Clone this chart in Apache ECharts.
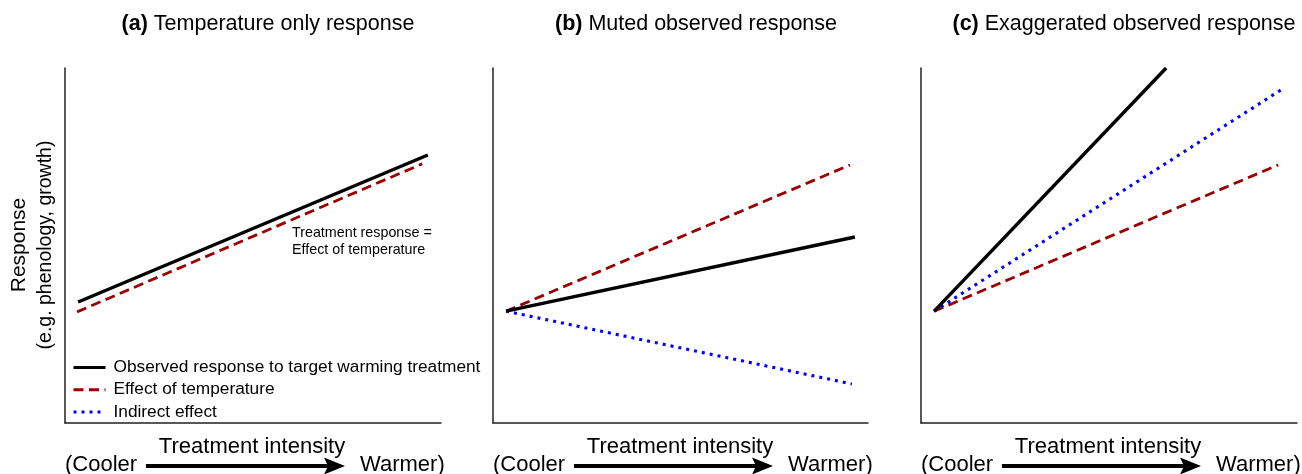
<!DOCTYPE html>
<html>
<head>
<meta charset="utf-8">
<script src="https://cdn.jsdelivr.net/npm/echarts@6/dist/echarts.min.js"></script>
<style>
html,body{margin:0;padding:0;background:#fff;}
#chart{width:1302px;height:474px;}
</style>
</head>
<body>
<div id="chart"></div>
<script>
// ---- data (x: treatment intensity 0-100, y: response 0-100) ----
const seriesNames = ['Observed response to target warming treatment', 'Effect of temperature', 'Indirect effect'];
const panelTitles = ['(a)', '(b)', '(c)'];
const panelSubtitles = ['Temperature only response', 'Muted observed response', 'Exaggerated observed response'];

const panelA_observed = [[3.5, 34.1], [96.5, 75.5]];
const panelA_temperature = [[3.2, 31.3], [95.0, 73.0]];
const panelA_indirect = [];

const panelB_observed = [[3.5, 31.5], [96.5, 52.4]];
const panelB_temperature = [[3.5, 31.5], [95.2, 72.7]];
const panelB_indirect = [[3.5, 31.5], [95.7, 11.0]];

const panelC_observed = [[3.5, 31.5], [65.2, 100]];
const panelC_temperature = [[3.5, 31.5], [95.0, 72.7]];
const panelC_indirect = [[3.5, 31.5], [95.7, 93.8]];

const annotationLines = ['Treatment response =', 'Effect of temperature'];
const yLabel = 'Response';
const ySubLabel = '(e.g. phenology, growth)';
const xLabel = 'Treatment intensity';
const xLow = '(Cooler';
const xHigh = 'Warmer)';

// ---- layout ----
const FONT = "'Liberation Sans', Arial, Helvetica, sans-serif";
const gridLefts = [65, 493, 921];
const gridWidths = [376, 375, 376];
const gridTop = 68, gridBottomPx = 423, chartH = 474;

const panelData = [
  [panelA_observed, panelA_temperature, panelA_indirect],
  [panelB_observed, panelB_temperature, panelB_indirect],
  [panelC_observed, panelC_temperature, panelC_indirect]
];

const styles = [
  {color: '#000000', width: 3.4, type: 'solid'},
  {color: '#990000', width: 2.8, type: [10, 5.5]},
  {color: '#0000ff', width: 3.1, type: [3, 5]}
];
const drawOrder = [1, 2, 0];

const grids = [], xAxes = [], yAxes = [], series = [], graphics = [];
gridLefts.forEach((left, i) => {
  grids.push({left: left, width: gridWidths[i], top: gridTop, bottom: chartH - gridBottomPx});
  const axisCommon = {
    type: 'value', min: 0, max: 100, gridIndex: i,
    axisLine: {show: true, onZero: false, lineStyle: {color: '#222', width: 1.5}},
    axisTick: {show: false}, axisLabel: {show: false}, splitLine: {show: false}
  };
  xAxes.push(Object.assign({}, axisCommon));
  yAxes.push(Object.assign({}, axisCommon));
  drawOrder.forEach(k => {
    series.push({
      type: 'line', name: seriesNames[k], xAxisIndex: i, yAxisIndex: i,
      data: panelData[i][k], symbol: 'none', silent: true, animation: false,
      lineStyle: {color: styles[k].color, width: styles[k].width, type: styles[k].type, cap: 'butt'},
      itemStyle: {color: styles[k].color},
      z: k === 0 ? 5 : 3
    });
  });

  // title
  graphics.push({
    type: 'text', x: left + 203, y: 24,
    style: {
      text: '{b|' + panelTitles[i] + '} ' + panelSubtitles[i],
      fontFamily: FONT, fontSize: 21.5, fill: '#000',
      align: 'center', verticalAlign: 'middle',
      rich: {b: {fontWeight: 'bold', fontFamily: FONT, fontSize: 21.5, fill: '#000'}}
    }
  });
  // x labels
  graphics.push({
    type: 'text', x: left + 187, y: 447,
    style: {text: xLabel, fontFamily: FONT, fontSize: 22, fill: '#000', align: 'center', verticalAlign: 'middle'}
  });
  graphics.push({
    type: 'text', x: left, y: 465,
    style: {text: xLow, fontFamily: FONT, fontSize: 22, fill: '#000', align: 'left', verticalAlign: 'middle'}
  });
  graphics.push({
    type: 'text', x: left + 295, y: 465,
    style: {text: xHigh, fontFamily: FONT, fontSize: 22, fill: '#000', align: 'left', verticalAlign: 'middle'}
  });
  // arrow
  const ax1 = left + 81, ax2 = left + 280, ay = 466;
  graphics.push({
    type: 'line', shape: {x1: ax1, y1: ay, x2: ax2 - 16, y2: ay},
    style: {stroke: '#000', lineWidth: 4}
  });
  graphics.push({
    type: 'polygon',
    shape: {points: [[ax2 - 21, ay - 8.5], [ax2, ay], [ax2 - 21, ay + 8.5], [ax2 - 17, ay]]},
    style: {fill: '#000'}
  });
});

// y axis label (panel a)
graphics.push({
  type: 'text', x: 19, y: 245, rotation: Math.PI / 2,
  style: {text: yLabel, fontFamily: FONT, fontSize: 21, fill: '#000', align: 'center', verticalAlign: 'middle'}
});
graphics.push({
  type: 'text', x: 46, y: 245, rotation: Math.PI / 2,
  style: {text: ySubLabel, fontFamily: FONT, fontSize: 19.5, fill: '#000', align: 'center', verticalAlign: 'middle'}
});
// annotation
graphics.push({
  type: 'text', x: 292, y: 242,
  style: {text: annotationLines.join('\n'), fontFamily: FONT, fontSize: 14.3, lineHeight: 17, fill: '#000', align: 'left', verticalAlign: 'middle'}
});

const chart = echarts.init(document.getElementById('chart'), null, {renderer: 'canvas'});
chart.setOption({
  animation: false,
  backgroundColor: '#fff',
  grid: grids,
  xAxis: xAxes,
  yAxis: yAxes,
  legend: {
    data: seriesNames,
    orient: 'vertical',
    left: 67, top: 354,
    itemWidth: 32, itemHeight: 14, itemGap: 5.2,
    selectedMode: false,
    itemStyle: {opacity: 0},
    lineStyle: {width: 3},
    textStyle: {fontFamily: FONT, fontSize: 17.3, color: '#000', padding: [0, 0, 0, 3]}
  },
  series: series,
  graphic: graphics
});
</script>
</body>
</html>
